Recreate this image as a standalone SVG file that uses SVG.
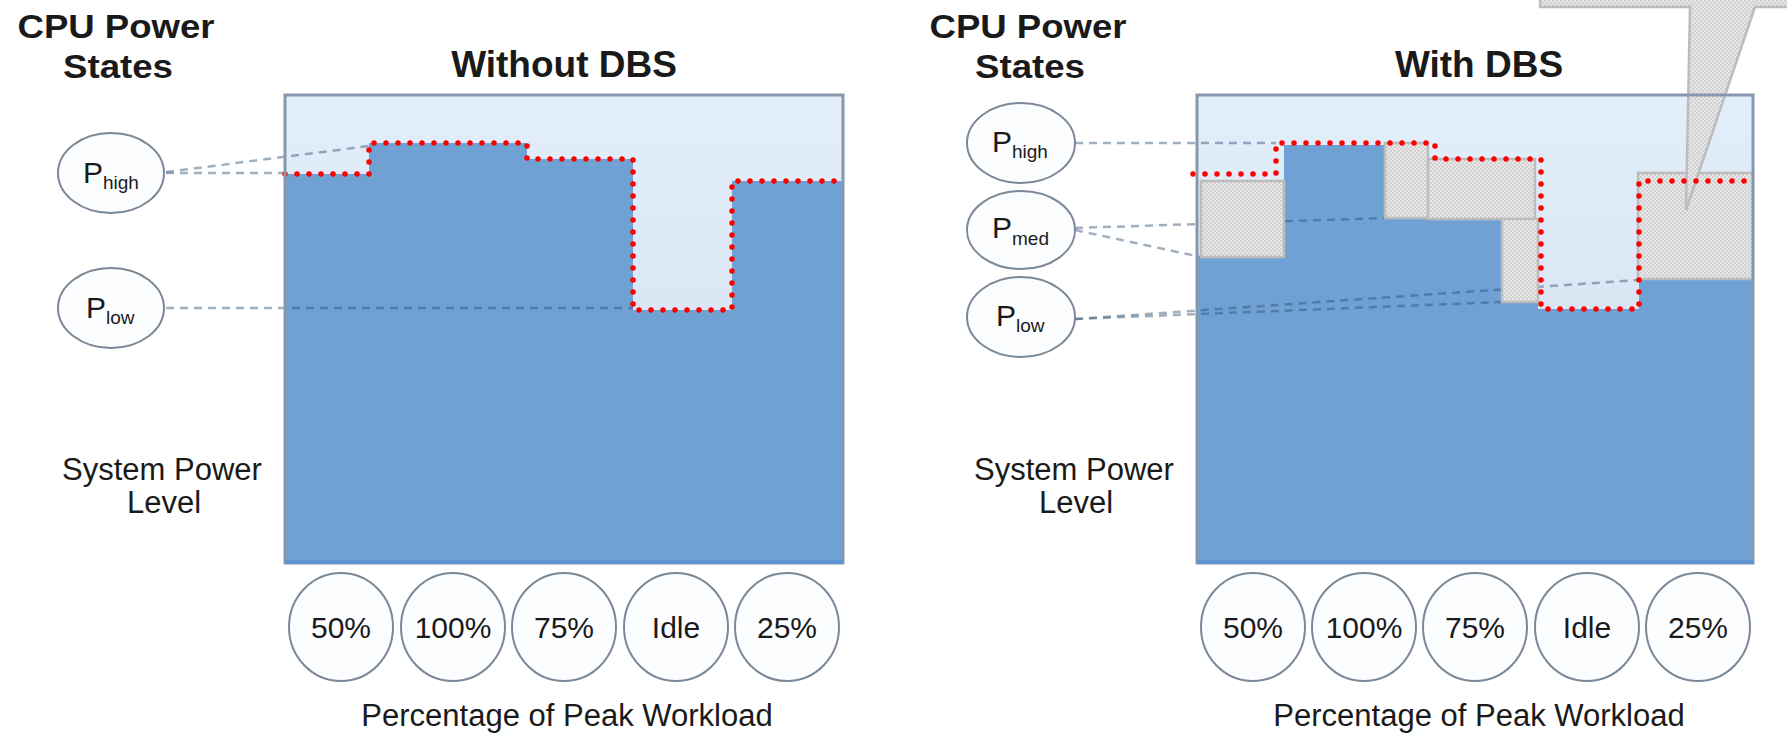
<svg xmlns="http://www.w3.org/2000/svg" width="1787" height="733" viewBox="0 0 1787 733">
<defs>
<linearGradient id="lightbg" x1="0" y1="0" x2="0" y2="1">
<stop offset="0" stop-color="#e3eefb"/>
<stop offset="0.6" stop-color="#d9e4f2"/>
<stop offset="1" stop-color="#d3deee"/>
</linearGradient>
<pattern id="hatch" width="4" height="4" patternUnits="userSpaceOnUse">
<rect width="4" height="4" fill="#e8e8e8"/>
<rect width="2" height="2" fill="#d0d0d0"/>
<rect x="2" y="2" width="2" height="2" fill="#d0d0d0"/>
</pattern>
<style>
.t{font-family:"Liberation Sans",Arial,sans-serif;fill:#1a1a1a}
.title{font-size:37px;font-weight:bold;text-anchor:middle}
.head{font-size:34px;font-weight:bold;text-anchor:middle}
.lab{font-size:31px;text-anchor:middle}
.pct{font-size:30px;text-anchor:middle}
.P{font-size:30px}
.sub{font-size:19px}
.node{fill:#fcfdff;stroke:#7b8898;stroke-width:2}
.blue{fill:#70a1d4}
.light{fill:url(#lightbg)}
.frame{fill:none;stroke:#8797ad;stroke-width:3}
.bottom{stroke:#5592d4;stroke-width:3}
.red{fill:none;stroke:#ff0000;stroke-width:5.5;stroke-dasharray:0 12;stroke-linecap:round}
.dash{fill:none;stroke:#2f4f70;stroke-opacity:0.45;stroke-width:2.5;stroke-dasharray:8 6}
.blk{fill:url(#hatch);stroke:#bcbcbc;stroke-width:2.5}
</style>
</defs>
<rect width="1787" height="733" fill="#ffffff"/>

<!-- LEFT PANEL -->
<g id="left-labels">
<text class="t head" x="116" y="38" textLength="197" lengthAdjust="spacingAndGlyphs">CPU Power</text>
<text class="t head" x="118" y="78" textLength="110" lengthAdjust="spacingAndGlyphs">States</text>
<text class="t title" x="564" y="77">Without DBS</text>
<text class="t lab" x="162" y="480">System Power</text>
<text class="t lab" x="164" y="513">Level</text>
<text class="t lab" x="567" y="726">Percentage of Peak Workload</text>
</g>
<g id="left-chart">
<rect class="light" x="285" y="95" width="558" height="468"/>
<path class="blue" d="M285,174 H369 V143 H527 V159 H633 V310 H732 V181 H843 V563 H285 Z"/>
</g>
<g id="left-connectors">
<path class="dash" d="M166,172 L369,146"/>
<path class="dash" d="M166,173 L287,173"/>
<path class="dash" d="M166,308 L633,308"/>
</g>
<g id="left-red">
<path class="red" d="M285,174 H369 V143 H527 V159 H633 V310 H732 V181 H843"/>
</g>
<g id="left-frame">
<rect class="frame" x="285" y="95" width="558" height="468"/>
<line class="bottom" x1="285" y1="562" x2="843" y2="562"/>
</g>
<g id="left-phigh">
<ellipse class="node" cx="111" cy="173" rx="53" ry="40"/>
<text class="t P" x="83" y="183">P<tspan class="sub" dy="6">high</tspan></text>
</g>
<g id="left-plow">
<ellipse class="node" cx="111" cy="308" rx="53" ry="40"/>
<text class="t P" x="86" y="318">P<tspan class="sub" dy="6">low</tspan></text>
</g>
<g id="left-workloads">
<ellipse class="node" cx="341" cy="627" rx="52" ry="54"/>
<text class="t pct" x="341" y="638">50%</text>
<ellipse class="node" cx="453" cy="627" rx="52" ry="54"/>
<text class="t pct" x="453" y="638">100%</text>
<ellipse class="node" cx="564" cy="627" rx="52" ry="54"/>
<text class="t pct" x="564" y="638">75%</text>
<ellipse class="node" cx="676" cy="627" rx="52" ry="54"/>
<text class="t pct" x="676" y="638">Idle</text>
<ellipse class="node" cx="787" cy="627" rx="52" ry="54"/>
<text class="t pct" x="787" y="638">25%</text>
</g>

<!-- RIGHT PANEL -->
<g id="right-labels">
<text class="t head" x="1028" y="38" textLength="197" lengthAdjust="spacingAndGlyphs">CPU Power</text>
<text class="t head" x="1030" y="78" textLength="110" lengthAdjust="spacingAndGlyphs">States</text>
<text class="t title" x="1479" y="77">With DBS</text>
<text class="t lab" x="1074" y="480">System Power</text>
<text class="t lab" x="1076" y="513">Level</text>
<text class="t lab" x="1479" y="726">Percentage of Peak Workload</text>
</g>
<g id="right-chart">
<rect class="light" x="1197" y="95" width="556" height="468"/>
<path class="blue" d="M1197,257 H1284 V145 H1385 V218 H1502 V302 H1538 V309 H1639 V279 H1753 V563 H1197 Z"/>
</g>
<g id="right-connectors">
<path class="dash" d="M1075,143 L1276,143"/>
<path class="dash" d="M1075,228 L1385,218"/>
<path class="dash" d="M1075,230 L1201,257"/>
<path class="dash" d="M1075,319 L1502,302"/>
<path class="dash" d="M1075,319 L1638,280"/>
</g>
<g id="right-blocks">
<rect class="blk" x="1201" y="181" width="83" height="76"/>
<rect class="blk" x="1385" y="143" width="43" height="75"/>
<rect class="blk" x="1428" y="159" width="107" height="60"/>
<rect class="blk" x="1502" y="219" width="36" height="83"/>
<rect class="blk" x="1638" y="173" width="115" height="106"/>
<polygon class="blk" points="1540,-3 1540,7 1690,7 1686,210 1755,7 1792,7 1792,-3"/>
</g>
<g id="right-red">
<path class="red" d="M1193,174 H1276 V143 H1435 V159 H1541 V309 H1639 V181 H1753"/>
</g>
<g id="right-frame">
<rect class="frame" x="1197" y="95" width="556" height="468"/>
<line class="bottom" x1="1197" y1="562" x2="1753" y2="562"/>
</g>
<g id="right-phigh">
<ellipse class="node" cx="1021" cy="143" rx="54" ry="40"/>
<text class="t P" x="992" y="152">P<tspan class="sub" dy="6">high</tspan></text>
</g>
<g id="right-pmed">
<ellipse class="node" cx="1021" cy="230" rx="54" ry="39"/>
<text class="t P" x="992" y="238">P<tspan class="sub" dy="7">med</tspan></text>
</g>
<g id="right-plow">
<ellipse class="node" cx="1021" cy="317" rx="54" ry="40"/>
<text class="t P" x="996" y="326">P<tspan class="sub" dy="6">low</tspan></text>
</g>
<g id="right-workloads">
<ellipse class="node" cx="1253" cy="627" rx="52" ry="54"/>
<text class="t pct" x="1253" y="638">50%</text>
<ellipse class="node" cx="1364" cy="627" rx="52" ry="54"/>
<text class="t pct" x="1364" y="638">100%</text>
<ellipse class="node" cx="1475" cy="627" rx="52" ry="54"/>
<text class="t pct" x="1475" y="638">75%</text>
<ellipse class="node" cx="1587" cy="627" rx="52" ry="54"/>
<text class="t pct" x="1587" y="638">Idle</text>
<ellipse class="node" cx="1698" cy="627" rx="52" ry="54"/>
<text class="t pct" x="1698" y="638">25%</text>
</g>
</svg>
